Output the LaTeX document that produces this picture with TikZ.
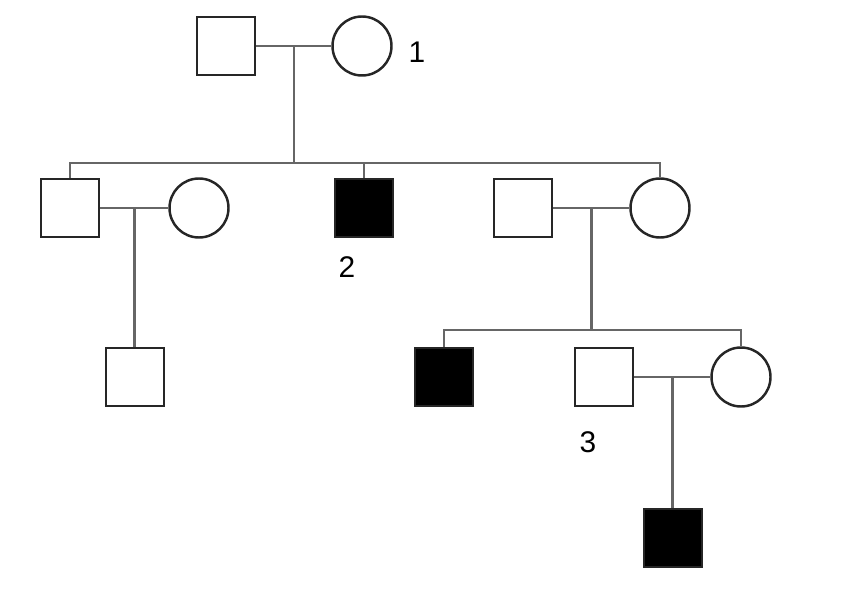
\documentclass[tikz,border=0pt]{standalone}
\usepackage{fontspec}
\setmainfont{Liberation Sans}
\usetikzlibrary{calc}

\tikzset{
  male/.style={draw=black!85, line width=1.4pt, rectangle, minimum size=1.16cm, inner sep=0pt, fill=white},
  female/.style={draw=black!85, line width=1.4pt, circle, minimum size=1.18cm, inner sep=0pt, fill=white},
  affected/.style={fill=black},
  link/.style={draw=black!60, line width=1.3pt},
  tag/.style={font=\fontsize{17}{20}\selectfont, inner sep=0pt}
}

\begin{document}
\begin{tikzpicture}[x=0.02cm, y=-0.02cm]
  \useasboundingbox (0,0) rectangle (851,611);

  % generation I
  \node[male] (i1) at (226,46) {};
  \node[female] (i2) at (362,46) {};
  % generation II
  \node[male] (ii1) at (70,208) {};
  \node[female] (ii2) at (199,208) {};
  \node[male, affected] (ii3) at (364,208) {};
  \node[male] (ii4) at (523,208) {};
  \node[female] (ii5) at (660,208) {};
  % generation III
  \node[male] (iii1) at (135,377) {};
  \node[male, affected] (iii2) at (444,377) {};
  \node[male] (iii3) at (604,377) {};
  \node[female] (iii4) at (741,377) {};
  % generation IV
  \node[male, affected] (iv1) at (673,538) {};

  % marriages and descent
  \coordinate (c1) at ($(i1)!0.5!(i2)$);
  \coordinate (c2) at ($(ii1)!0.5!(ii2)$);
  \coordinate (c3) at ($(ii4)!0.5!(ii5)$);
  \coordinate (c4) at ($(iii3)!0.5!(iii4)$);
  \coordinate (s1) at (293,163);
  \coordinate (s2) at (592,330);

  \draw[link] (i1) -- (i2);
  \draw[link] (c1) -- (c1 |- s1);
  \draw[link] (ii1.north) -- (ii1.north |- s1) -- (ii5.north |- s1) -- (ii5.north);
  \draw[link] (ii3.north) -- (ii3.north |- s1);

  \draw[link] (ii1) -- (ii2);
  \draw[link] (c2) -- (c2 |- iii1.north);

  \draw[link] (ii4) -- (ii5);
  \draw[link] (c3) -- (c3 |- s2);
  \draw[link] (iii2.north) -- (iii2.north |- s2) -- (iii4.north |- s2) -- (iii4.north);

  \draw[link] (iii3) -- (iii4);
  \draw[link] (c4) -- (c4 |- iv1.north);

  % labels
  \node[tag] (l1) at (417,52) {1};
  \node[tag] (l2) at (347,267) {2};
  \node[tag] (l3) at (588,442) {3};
\end{tikzpicture}
\end{document}
